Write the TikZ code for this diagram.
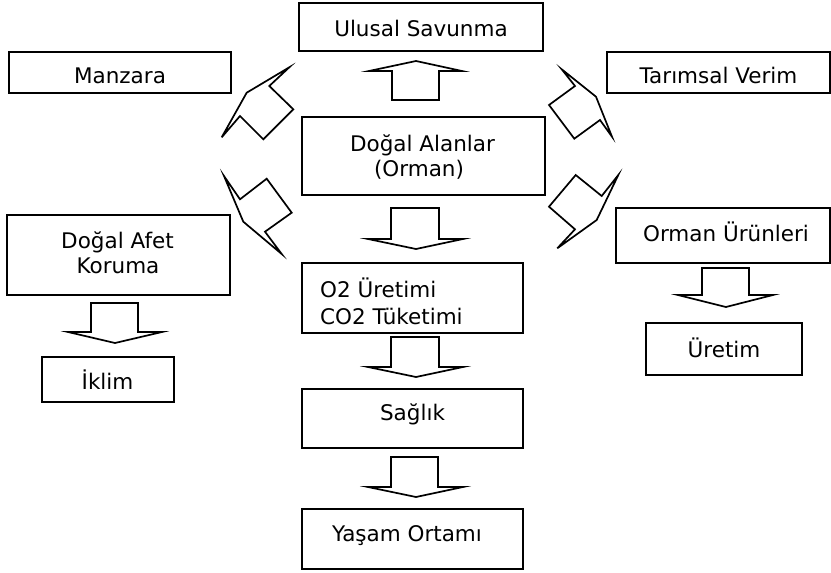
\documentclass[tikz,border=0pt]{standalone}
\usepackage{fontspec}
\setmainfont{DejaVu Sans}
\begin{document}
\begin{tikzpicture}[x=1pt,y=-1pt,
  box/.style={draw, line width=1.8pt, inner sep=0pt},
  blk/.style={draw, line width=1.7pt},
  lbl/.style={font=\fontsize{21.5}{25}\selectfont, inner sep=0pt, anchor=base}]
\fill[white] (0,0) rectangle (831,573);
\useasboundingbox (0,0) rectangle (831,573);
% boxes
\node[box, minimum width=244, minimum height=48] (ulusal) at (421,27) {};
\node[box, minimum width=222, minimum height=41] (manzara) at (120,72.5) {};
\node[box, minimum width=223, minimum height=41] (tarim) at (718.5,72.5) {};
\node[box, minimum width=243, minimum height=78] (dogal) at (423.5,156) {};
\node[box, minimum width=223, minimum height=80] (afet) at (118.5,255) {};
\node[box, minimum width=221, minimum height=70] (otwo) at (412.5,298) {};
\node[box, minimum width=214, minimum height=55] (orman) at (723,235.5) {};
\node[box, minimum width=132, minimum height=45] (iklim) at (108,379.5) {};
\node[box, minimum width=156, minimum height=52] (uretim) at (724,349) {};
\node[box, minimum width=221, minimum height=59] (saglik) at (412.5,418.5) {};
\node[box, minimum width=221, minimum height=60] (yasam) at (412.5,539) {};
% texts
\node[lbl] (ulusalT) at (421,36) {Ulusal Savunma};
\node[lbl] (manzaraT) at (120,83.5) {Manzara};
\node[lbl] (tarimT) at (718.5,83) {Tarımsal Verim};
\node[lbl] (dogalT1) at (422.5,151) {Doğal Alanlar};
\node[lbl] (dogalT2) at (419,176) {(Orman)};
\node[lbl] (afetT1) at (117.5,248) {Doğal Afet};
\node[lbl] (afetT2) at (118,273) {Koruma};
\node[lbl, anchor=base west] (otwoT1) at (320,297) {O2 Üretimi};
\node[lbl, anchor=base west] (otwoT2) at (320,324) {CO2 Tüketimi};
\node[lbl] (ormanT) at (726,241) {Orman Ürünleri};
\node[lbl] (iklimT) at (107.5,389) {İklim};
\node[lbl] (uretimT) at (724,357) {Üretim};
\node[lbl] (saglikT) at (412.5,420) {Sağlık};
\node[lbl] (yasamT) at (407,541) {Yaşam Ortamı};
% up block arrow
\draw[blk] (392,100) -- (392,71) -- (369,71) -- (416,61) -- (462,71) -- (439,71) -- (439,100) -- cycle;
% down block arrows
\draw[blk] (391,208) -- (439,208) -- (439,239) -- (463,239) -- (416,249) -- (368,239) -- (391,239) -- cycle;
\draw[blk] (391,337) -- (439,337) -- (439,367) -- (463,367) -- (416,377) -- (368,367) -- (391,367) -- cycle;
\draw[blk] (391,457) -- (438,457) -- (438,487) -- (463,487) -- (416,497) -- (368,487) -- (391,487) -- cycle;
\draw[blk] (91,303) -- (138,303) -- (138,332) -- (162,332) -- (115,343) -- (68,332) -- (91,332) -- cycle;
\draw[blk] (702,268) -- (749,268) -- (749,295) -- (773,295) -- (726,307) -- (678,295) -- (702,295) -- cycle;
% diagonal block arrows
\draw[blk] (221.7,137.3) -- (240,116) -- (263.3,139.3) -- (293.3,109.3) -- (269.3,86) -- (289.3,67.3) -- (246.7,92.7) -- cycle;
\draw[blk] (224,176) -- (240,199.3) -- (266.7,178.7) -- (291.7,212.7) -- (265,231.7) -- (281.7,254) -- (243.3,221.7) -- cycle;
\draw[blk] (561.7,69.3) -- (575,86) -- (549,105) -- (574.3,138.7) -- (600,120) -- (612,136.7) -- (596,96.7) -- cycle;
\draw[blk] (618.3,175) -- (601.7,196) -- (575.7,175) -- (549,206.7) -- (575,229.3) -- (557.3,248.3) -- (596.7,220) -- cycle;
\end{tikzpicture}
\end{document}
